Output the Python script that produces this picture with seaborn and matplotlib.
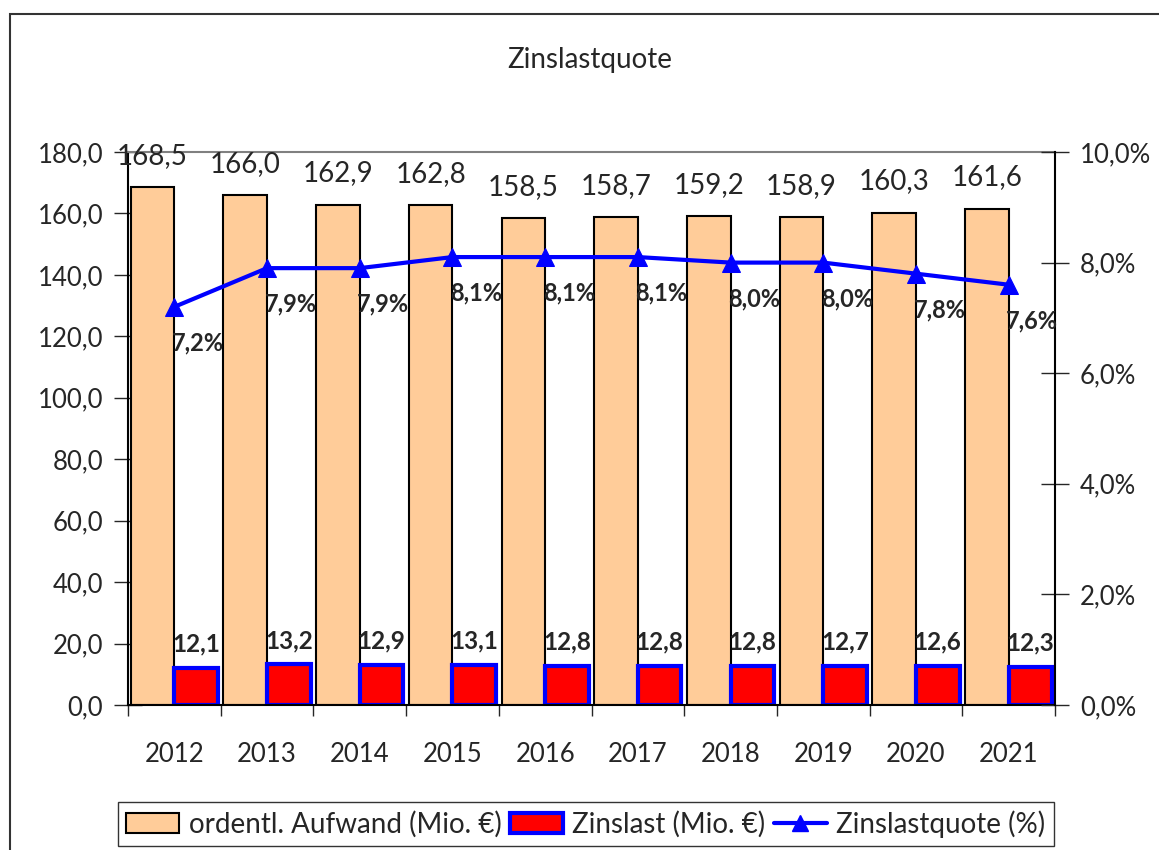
#%% Imports

import numpy as np
import pandas as pd
import matplotlib
matplotlib.use('Agg')
import matplotlib.pyplot as plt
import matplotlib.ticker as ticker
from matplotlib.patches import Patch, Rectangle
from matplotlib.lines import Line2D
import seaborn as sns

#%% Data

years = ['2012', '2013', '2014', '2015', '2016', '2017', '2018', '2019', '2020', '2021']
aufwand = [168.5, 166.0, 162.9, 162.8, 158.5, 158.7, 159.2, 158.9, 160.3, 161.6]
zinslast = [12.1, 13.2, 12.9, 13.1, 12.8, 12.8, 12.8, 12.7, 12.6, 12.3]
quote = [7.2, 7.9, 7.9, 8.1, 8.1, 8.1, 8.0, 8.0, 7.8, 7.6]

series_names = ['ordentl. Aufwand (Mio. €)', 'Zinslast (Mio. €)', 'Zinslastquote (%)']
title = 'Zinslastquote'

#%% Style

sns.set_style('white')
plt.rcParams['font.family'] = ['Lato', 'DejaVu Sans']

orange = '#FFCC99'
red = '#FF0000'
blue = '#0000FF'

def de(x, suffix=''):
    return '{:.1f}'.format(x).replace('.', ',') + suffix

#%% Long form table

df = pd.DataFrame({
    'Jahr': years * 2,
    'Wert': aufwand + zinslast,
    'Serie': [series_names[0]] * len(years) + [series_names[1]] * len(years),
})

#%% Plot

fig = plt.figure(figsize=(11.59, 8.5), dpi=100)
ax = fig.add_axes([128 / 1159, 145 / 850, 927 / 1159, 553 / 850])

sns.barplot(data=df, x='Jahr', y='Wert', hue='Serie', order=years,
            palette=[orange, red], width=0.94, dodge=True, ax=ax,
            legend=False, errorbar=None, saturation=1)

for bar in ax.containers[0]:
    bar.set_edgecolor('black')
    bar.set_linewidth(1.5)
for bar in ax.containers[1]:
    bar.set_edgecolor(blue)
    bar.set_linewidth(3)

ax.set_ylim(0, 180)
ax.set_xlim(-0.5, len(years) - 0.5)
ax.set_yticks(np.arange(0, 181, 20))
ax.yaxis.set_major_formatter(ticker.FuncFormatter(lambda v, p: de(v)))
ax.tick_params(axis='y', direction='inout', length=20, width=1, labelsize=18.5, pad=8, left=True)
ax.set_xticks(np.arange(len(years)))
ax.set_xticklabels(years)
ax.set_xticks(np.arange(-0.5, len(years)), minor=True)
ax.tick_params(axis='x', which='major', length=0, labelsize=18.5, pad=27)
ax.tick_params(axis='x', which='minor', direction='out', length=8, width=1, bottom=True)
ax.set_xlabel('')
ax.set_ylabel('')

for s in ['left', 'bottom']:
    ax.spines[s].set_color('black')
    ax.spines[s].set_linewidth(1.5)
ax.spines['top'].set_color('#808080')
ax.spines['top'].set_linewidth(1.5)
ax.spines['right'].set_visible(False)

# bar labels
for bar, v in zip(ax.containers[0], aufwand):
    ax.annotate(de(v), (bar.get_x() + bar.get_width() / 2, bar.get_height()),
                xytext=(0, 13), textcoords='offset points', ha='center', va='bottom',
                fontsize=20, annotation_clip=False)
for bar, v in zip(ax.containers[1], zinslast):
    ax.annotate(de(v), (bar.get_x() + bar.get_width() / 2, bar.get_height()),
                xytext=(0, 9), textcoords='offset points', ha='center', va='bottom',
                fontsize=17.5, fontweight='bold')

#%% Line on secondary axis

ax2 = ax.twinx()
sns.lineplot(x=np.arange(len(years)), y=quote, ax=ax2, color=blue, linewidth=3,
             marker='^', markersize=13, markeredgecolor=blue)
ax2.set_ylim(0, 10)
ax2.set_yticks(np.arange(0, 11, 2))
ax2.yaxis.set_major_formatter(ticker.FuncFormatter(lambda v, p: de(v, '%')))
ax2.tick_params(axis='y', direction='inout', length=20, width=1, labelsize=18.5, pad=8, right=True)
for s in ['left', 'top', 'bottom']:
    ax2.spines[s].set_visible(False)
ax2.spines['right'].set_color('black')
ax2.spines['right'].set_linewidth(1.5)

for i, v in enumerate(quote):
    ax2.annotate(de(v, '%'), (i, v), xytext=(17, -26), textcoords='offset points',
                 ha='center', va='center', fontsize=17, fontweight='bold')

#%% Title, legend, frame

fig.text(590 / 1159, 1 - 60 / 850, title, ha='center', va='center', fontsize=20)

handles = [
    Patch(facecolor=orange, edgecolor='black', linewidth=1.5),
    Patch(facecolor=red, edgecolor=blue, linewidth=3),
    Line2D([], [], color=blue, linewidth=3, marker='^', markersize=11),
]
leg = fig.legend(handles, series_names, loc='center', bbox_to_anchor=(586 / 1159, 26 / 850),
                 ncol=3, fontsize=20, frameon=True, fancybox=False, handlelength=1.9,
                 handleheight=0.7, handletextpad=0.35, columnspacing=0.3, borderpad=0.3,
                 borderaxespad=0)
leg.get_frame().set_edgecolor('black')
leg.get_frame().set_linewidth(1)

fig.add_artist(Rectangle((10 / 1159, -0.1), 1.2, 0.1 + 1 - 14 / 850, transform=fig.transFigure,
                         fill=False, edgecolor='#333333', linewidth=1.5, clip_on=False))

fig.savefig('out.png', dpi=100)
